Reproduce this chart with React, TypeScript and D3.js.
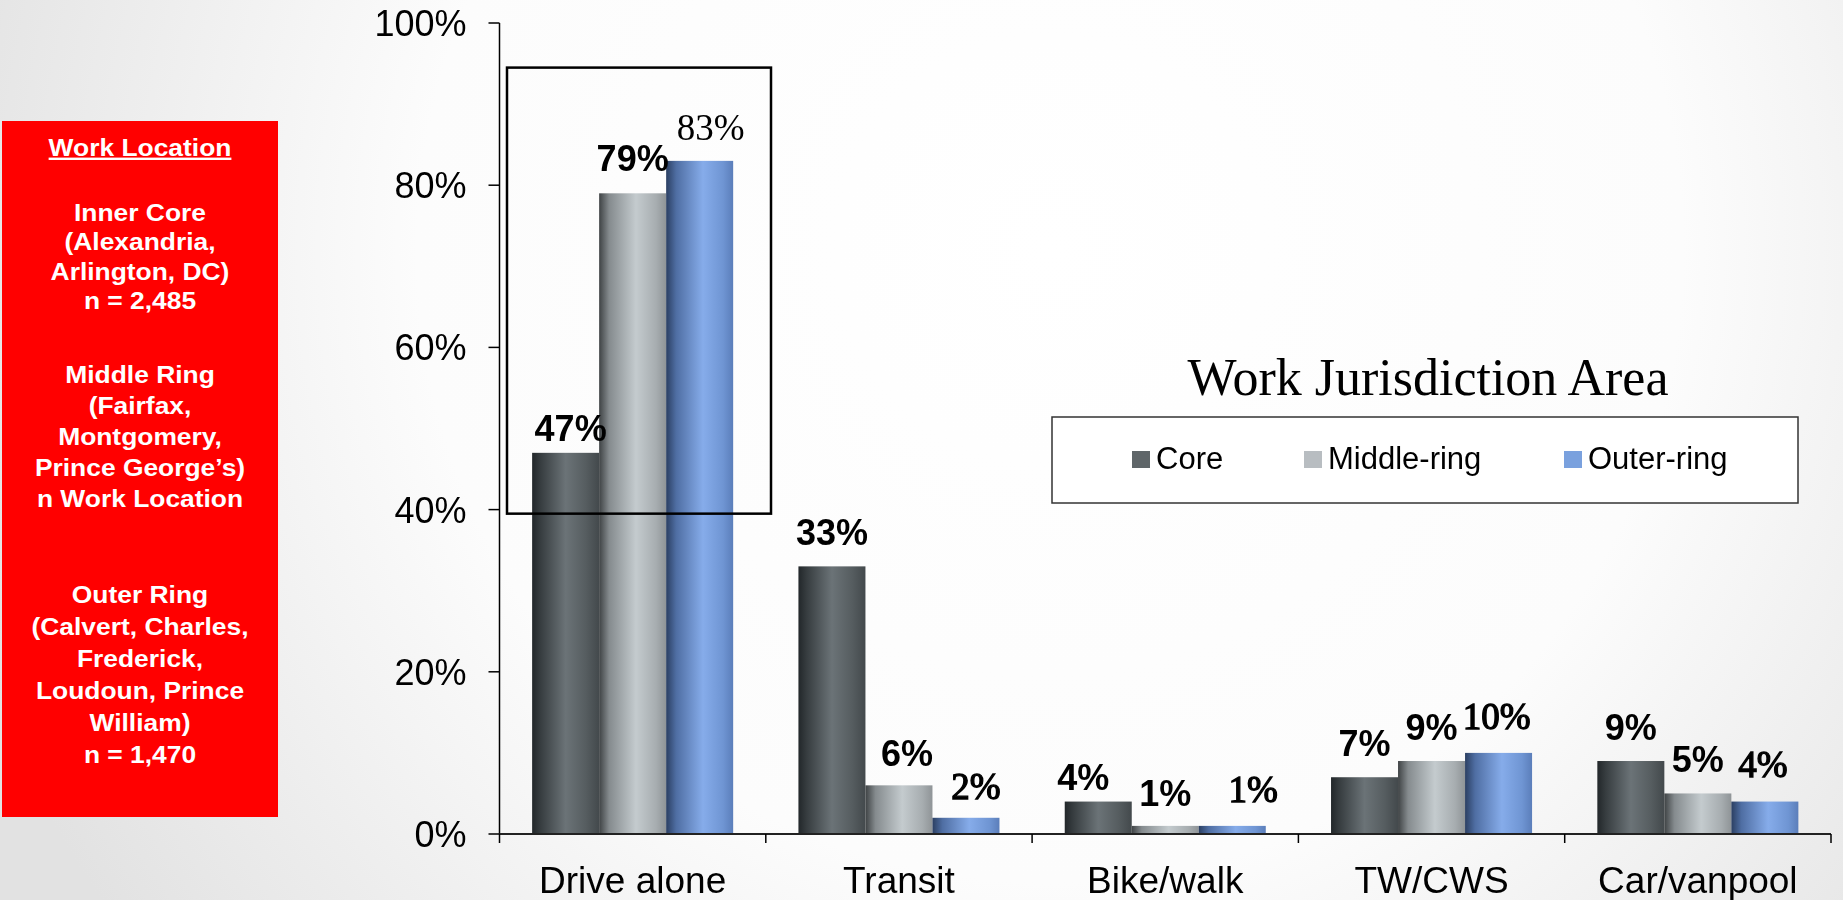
import React from "react";
import * as d3 from "d3";

const categories = ["Drive alone", "Transit", "Bike/walk", "TW/CWS", "Car/vanpool"];
const seriesNames = ["Core", "Middle-ring", "Outer-ring"];
const coreValues = [47, 33, 4, 7, 9];
const middleValues = [79, 6, 1, 9, 5];
const outerValues = [83, 2, 1, 10, 4];
const yTickValues = [0, 20, 40, 60, 80, 100];
const highlightRange = [39.5, 94.5];

const sideTitle = "Work Location";
const sideGroups = [
  ["Inner Core", "(Alexandria,", "Arlington, DC)", "n = 2,485"],
  ["Middle Ring", "(Fairfax,", "Montgomery,", "Prince George\u2019s)", "n Work Location"],
  ["Outer Ring", "(Calvert, Charles,", "Frederick,", "Loudoun, Prince", "William)", "n = 1,470"],
];

// layout only: label nudges [series][category] -> [dx, lift above bar top]
const labelNudge = [
  [[5, 12], [0, 21], [-15, 12], [0, 21], [0, 21]],
  [[0, 22], [8, 19], [0, 20], [0, 21], [0, 21]],
  [[11, 21], [10, 19], [21, 24], [-2, 24], [-2, 25]],
];
const groupStart = [220.7, 383.5, 603.3];
const groupLineH = [29.6, 31, 31.9];
const legendX = [1132, 1304, 1564];

const W = 1843;
const H = 900;
const sans = "'Liberation Sans', Arial, sans-serif";
const serif = "'Liberation Serif', 'Times New Roman', serif";

export default function App() {
  const left = 499.5;
  const right = 1831;
  const top = 23;
  const bottom = 834;

  const x0 = d3.scaleBand<string>().domain(categories).range([left, right]).paddingInner(0).paddingOuter(0);
  const x1 = d3
    .scaleBand<string>()
    .domain(seriesNames)
    .range([0, x0.bandwidth()])
    .paddingInner(0)
    .paddingOuter(0.487);
  const y = d3.scaleLinear().domain([0, 100]).range([bottom, top]);

  const series = [coreValues, middleValues, outerValues];
  const gradIds = ["gCore", "gMid", "gOut"];
  const swatch = ["#5f6669", "#b8bdc1", "#7aa1de"];

  const boundaries = categories.map((c) => x0(c) as number).concat([right]);

  return (
    <div style={{ position: "fixed", left: 0, top: 0, width: W, height: H }}>
      <svg width={W} height={H} viewBox={`0 0 ${W} ${H}`} style={{ display: "block" }}>
        <defs>
          <radialGradient id="bg" cx="1050" cy="250" r="1150" gradientUnits="userSpaceOnUse">
            <stop offset="0" stopColor="#ffffff" />
            <stop offset="0.55" stopColor="#fcfcfc" />
            <stop offset="1" stopColor="#e2e2e2" />
          </radialGradient>
          <linearGradient id="gCore" x1="0" x2="1" y1="0" y2="0">
            <stop offset="0" stopColor="#22272a" />
            <stop offset="0.12" stopColor="#363c3f" />
            <stop offset="0.5" stopColor="#6b7377" />
            <stop offset="0.8" stopColor="#565d60" />
            <stop offset="1" stopColor="#43494c" />
          </linearGradient>
          <linearGradient id="gMid" x1="0" x2="1" y1="0" y2="0">
            <stop offset="0" stopColor="#3f4345" />
            <stop offset="0.15" stopColor="#858b8e" />
            <stop offset="0.55" stopColor="#c4cbce" />
            <stop offset="0.85" stopColor="#a7adb0" />
            <stop offset="1" stopColor="#8f9497" />
          </linearGradient>
          <linearGradient id="gOut" x1="0" x2="1" y1="0" y2="0">
            <stop offset="0" stopColor="#2b3f62" />
            <stop offset="0.15" stopColor="#4f6ea3" />
            <stop offset="0.55" stopColor="#86acea" />
            <stop offset="0.85" stopColor="#6f95d3" />
            <stop offset="1" stopColor="#5b7eba" />
          </linearGradient>
        </defs>
        <rect x={0} y={0} width={W} height={H} fill="url(#bg)" />

        {/* Side red box */}
        <rect x={2} y={121} width={276} height={696} fill="#ff0000" />
        <g transform="translate(140,0) scale(1.1,1)" fill="#fff" fontFamily={sans} fontWeight="bold" fontSize={24}>
          <text x={0} y={155.7} textAnchor="middle" textDecoration="underline">
            {sideTitle}
          </text>
          {sideGroups.map((g, gi) =>
            g.map((line, li) => (
              <text key={gi + "-" + li} x={0} y={groupStart[gi] + li * groupLineH[gi]} textAnchor="middle">
                {line}
              </text>
            ))
          )}
        </g>

        {/* Bars */}
        {categories.map((c, ci) => (
          <g key={c} transform={`translate(${x0(c)},0)`}>
            {seriesNames.map((s, si) => {
              const v = series[si][ci];
              return (
                <rect
                  key={s}
                  x={x1(s) as number}
                  y={y(v)}
                  width={x1.bandwidth()}
                  height={bottom - y(v)}
                  fill={`url(#${gradIds[si]})`}
                />
              );
            })}
          </g>
        ))}

        {/* Data labels */}
        {categories.map((c, ci) =>
          seriesNames.map((s, si) => {
            const v = series[si][ci];
            const cx = (x0(c) as number) + (x1(s) as number) + x1.bandwidth() / 2 + labelNudge[si][ci][0];
            const isSerif = si === 2;
            const heavy = isSerif && ci > 0;
            return (
              <text
                key={c + s}
                x={cx}
                y={y(v) - labelNudge[si][ci][1]}
                textAnchor="middle"
                fontFamily={isSerif ? serif : sans}
                fontWeight={isSerif ? "normal" : "bold"}
                fontSize={isSerif ? 37 : 36}
                fill="#000"
                stroke={heavy ? "#000" : "none"}
                strokeWidth={heavy ? 1.3 : 0}
              >
                {v}%
              </text>
            );
          })
        )}

        {/* Y axis */}
        <line x1={left} x2={left} y1={y(100)} y2={bottom} stroke="#000" strokeWidth={1.5} />
        {yTickValues.map((t) => (
          <g key={t}>
            <line x1={left - 11} x2={left} y1={y(t)} y2={y(t)} stroke="#000" strokeWidth={1.5} />
            <text x={left - 33} y={y(t)} dy="0.36em" textAnchor="end" fontFamily={sans} fontSize={36} fill="#000">
              {t}%
            </text>
          </g>
        ))}

        {/* X axis */}
        <line x1={left} x2={right} y1={bottom} y2={bottom} stroke="#222" strokeWidth={2} />
        {boundaries.map((b, i) => (
          <line key={i} x1={b} x2={b} y1={bottom} y2={bottom + 9} stroke="#000" strokeWidth={1.5} />
        ))}
        {categories.map((c) => (
          <text
            key={c}
            x={(x0(c) as number) + x0.bandwidth() / 2}
            y={893}
            textAnchor="middle"
            fontFamily={sans}
            fontSize={37}
            fill="#000"
          >
            {c}
          </text>
        ))}

        {/* Highlight box */}
        <rect
          x={507}
          y={y(highlightRange[1])}
          width={264}
          height={y(highlightRange[0]) - y(highlightRange[1])}
          fill="none"
          stroke="#000"
          strokeWidth={2.5}
        />

        {/* Legend */}
        <text x={1428} y={395} textAnchor="middle" fontFamily={serif} fontSize={52} fill="#000">
          Work Jurisdiction Area
        </text>
        <rect x={1052} y={417} width={746} height={86} fill="#fff" stroke="#333" strokeWidth={1.5} />
        {seriesNames.map((s, i) => (
          <g key={s}>
            <rect x={legendX[i]} y={451} width={18} height={17} fill={swatch[i]} />
            <text x={legendX[i] + 24} y={469} fontFamily={sans} fontSize={31} fill="#000">
              {s}
            </text>
          </g>
        ))}
      </svg>
    </div>
  );
}
